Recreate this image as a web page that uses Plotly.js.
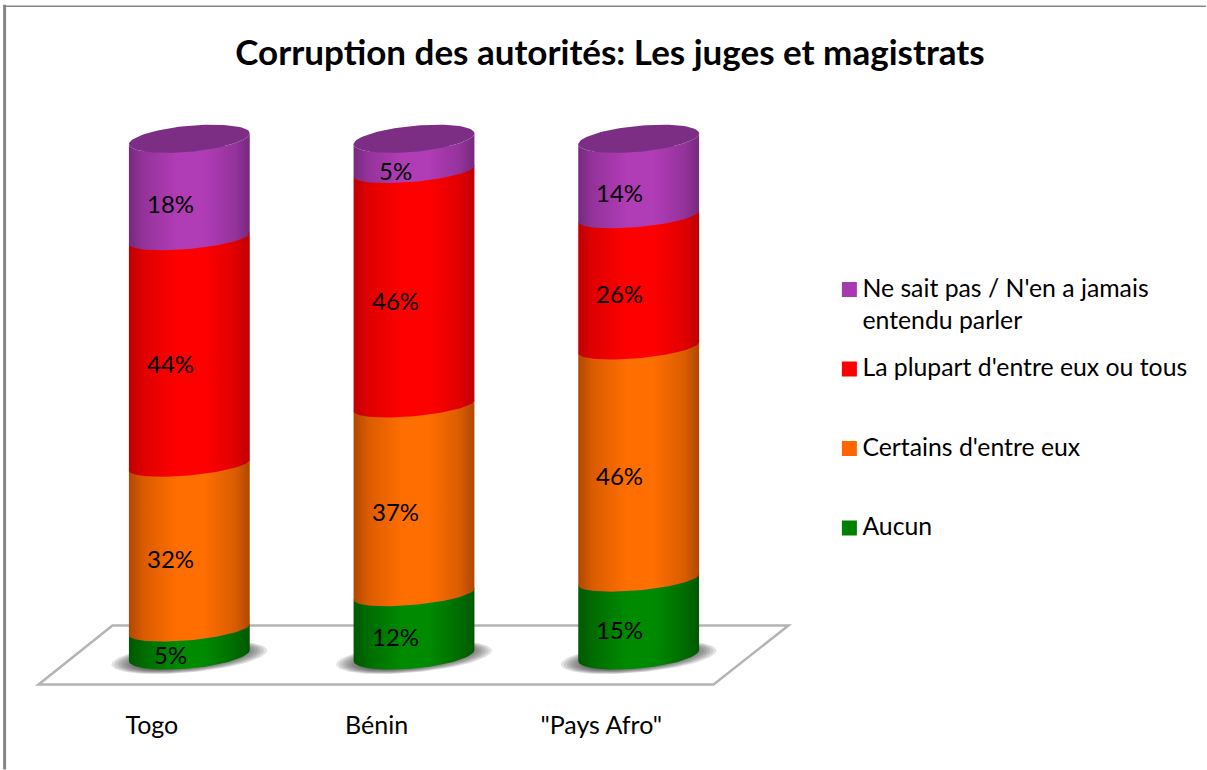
<!DOCTYPE html>
<html><head><meta charset="utf-8">
<script src="https://cdn.plot.ly/plotly-3.0.1.min.js"></script>
<style>html,body{margin:0;padding:0;background:#fff}#chart{width:1207px;height:770px}</style>
</head><body><div id="chart"></div>
<script>
const categories = ['Togo', 'Bénin', '"Pays Afro"'];
const seriesNames = ['Aucun', "Certains d'entre eux", "La plupart d'entre eux ou tous", "Ne sait pas / N'en a jamais<br>entendu parler"];
const aucun = [5, 12, 15];
const certains = [32, 37, 46];
const plupart = [44, 46, 26];
const neSaitPas = [18, 5, 14];
const seriesValues = [aucun, certains, plupart, neSaitPas];
const legendColors = ['#008000', '#FF6600', '#FF0000', '#A63AAE'];
const edgeColors = ['#005800', '#B04800', '#BE0000', '#76297E'];
const nearEdgeColors = ['#006C00', '#DA5C00', '#E00000', '#94339B'];
const midColors = ['#008A00', '#FF6E00', '#FF0000', '#B03CB6'];
const capColor = '#7C2E84';

const L = 76.5, W = 675, T = 105.2, H = 576.3, PX_X = 225, PX_Y = 5.1;
const halfW = 60.5, tilt = 5.5, sagEnd = 13, sagMid = 10.5, capLift = 7;
const N = 48;
function curve(i, v, sag, from, to, lift) {
  const xs = [], ys = [];
  for (let k = 0; k <= N; k++) {
    const t = from + (to - from) * k / N;
    xs.push(i + halfW * Math.cos(t) / PX_X);
    ys.push(v + (tilt * Math.cos(t) - sag * Math.sin(t) + (lift || 0)) / PX_Y);
  }
  return {xs, ys};
}
const traces = [];
seriesValues.forEach((vals, s) => traces.push({
  type: 'bar', x: [0, 1, 2], y: vals, width: 0.4, name: seriesNames[s],
  marker: {color: legendColors[s]}, showlegend: false, hoverinfo: 'skip'
}));
[0, 1, 2].forEach(i => {
  [1.0, 0.96, 0.92, 0.88, 0.84, 0.8, 0.76, 0.72, 0.68, 0.64].forEach(f => {
    const xs = [], ys = [];
    for (let k = 0; k <= 2 * N; k++) {
      const t = Math.PI * k / N;
      xs.push(i + 78 * f * Math.cos(t) / PX_X);
      ys.push((-2 + 7 * Math.cos(t) - 15 * f * Math.sin(t)) / PX_Y);
    }
    traces.push({type: 'scatter', mode: 'lines', x: xs, y: ys, fill: 'toself', fillcolor: 'rgba(70,70,70,0.15)',
      line: {width: 0}, showlegend: false, hoverinfo: 'skip', cliponaxis: false});
  });
});
const annotations = [];
[0, 1, 2].forEach(i => {
  const total = seriesValues.reduce((a, v) => a + v[i], 0);
  let cum = 0;
  seriesValues.forEach((vals, s) => {
    const v0 = cum / total * 100;
    cum += vals[i];
    const v1 = cum / total * 100;
    const last = s === seriesValues.length - 1;
    const bot = curve(i, v0, s === 0 ? sagEnd : sagMid, Math.PI, 0);
    const top = curve(i, v1, last ? sagEnd : sagMid, 0, Math.PI, last ? capLift : 1);
    traces.push({type: 'scatter', mode: 'lines', x: bot.xs.concat(top.xs), y: bot.ys.concat(top.ys),
      fill: 'toself', line: {width: 0}, showlegend: false, hoverinfo: 'skip', cliponaxis: false,
      fillcolor: midColors[s],
      fillgradient: {type: 'horizontal', colorscale: [[0, edgeColors[s]], [0.12, nearEdgeColors[s]], [0.4, midColors[s]], [0.62, midColors[s]], [0.88, nearEdgeColors[s]], [1, edgeColors[s]]]}});
    annotations.push({x: i, y: (v0 + v1) / 2, xref: 'x', yref: 'y', text: vals[i] + '%', showarrow: false,
      xshift: -19, yshift: -11.5, font: {family: 'Lato', size: 24, color: '#000'}});
  });
  const a = curve(i, 100, sagEnd, 0, Math.PI, capLift), b = curve(i, 100, sagEnd, Math.PI, 2 * Math.PI, capLift);
  traces.push({type: 'scatter', mode: 'lines', x: a.xs.concat(b.xs), y: a.ys.concat(b.ys), fill: 'toself',
    fillcolor: capColor, line: {width: 0}, showlegend: false, hoverinfo: 'skip', cliponaxis: false});
});
[3, 2, 1, 0].forEach(s => {
  const label = seriesNames[s].includes('<br>') ? seriesNames[s] : seriesNames[s] + '<br>&nbsp;';
  traces.push({type: 'scatter', mode: 'markers', x: [null], y: [null], name: label, legendgroup: 'g' + s,
    marker: {symbol: 'square', size: 15, color: legendColors[s]}, hoverinfo: 'skip'});
});
const fx = p => (p - L) / W, fy = p => (T + H - p) / H;
const floorPath = [[38, 685], [714, 685], [789, 626], [112, 626]];
const labelOffset = 37.5 / PX_X;
const layout = {
  width: 1207, height: 770, margin: {l: L, r: 1207 - L - W, t: T, b: 770 - T - H, pad: 0},
  paper_bgcolor: '#fff', plot_bgcolor: 'rgba(0,0,0,0)', barmode: 'stack', barnorm: 'percent', hovermode: false,
  title: {text: '<b>Corruption des autorités: Les juges et magistrats</b>', x: 610 / 1207, xanchor: 'center', y: 1 - 53 / 770, yanchor: 'middle',
    font: {family: 'Lato', size: 35, color: '#000'}},
  xaxis: {range: [-0.5, 2.5], tickvals: [0, 1, 2].map(i => i - labelOffset), ticktext: categories, showgrid: false, zeroline: false, showline: false,
    ticks: 'outside', ticklen: 22, tickcolor: 'rgba(0,0,0,0)', tickfont: {family: 'Lato', size: 25, color: '#000'}},
  yaxis: {range: [-25.5 / PX_Y, 550.8 / PX_Y], visible: false, fixedrange: true},
  legend: {x: fx(823), xanchor: 'left', y: fy(265), yanchor: 'top', traceorder: 'grouped', tracegroupgap: 12,
    font: {family: 'Lato', size: 24.8, color: '#000'}, bgcolor: 'rgba(0,0,0,0)'},
  annotations,
  shapes: [
    {type: 'path', xref: 'paper', yref: 'paper', layer: 'below',
     path: 'M' + floorPath.map(p => fx(p[0]) + ',' + fy(p[1])).join('L') + 'Z',
     fillcolor: '#fff', line: {color: '#B4B4B4', width: 2.5}},
    {type: 'line', xref: 'paper', yref: 'paper', layer: 'below', x0: fx(4), x1: fx(4), y0: fy(5), y1: fy(770), line: {color: '#868686', width: 3}},
    {type: 'line', xref: 'paper', yref: 'paper', layer: 'below', x0: fx(3), x1: fx(1207), y0: fy(6.5), y1: fy(6.5), line: {color: '#868686', width: 1.5}}
  ]
};
Plotly.newPlot('chart', traces, layout, {displayModeBar: false, staticPlot: true}).then(() => {
  document.querySelectorAll('#chart .legend .legendsymbols').forEach(n => n.setAttribute('transform', 'translate(7,-14)'));
});
</script></body></html>
